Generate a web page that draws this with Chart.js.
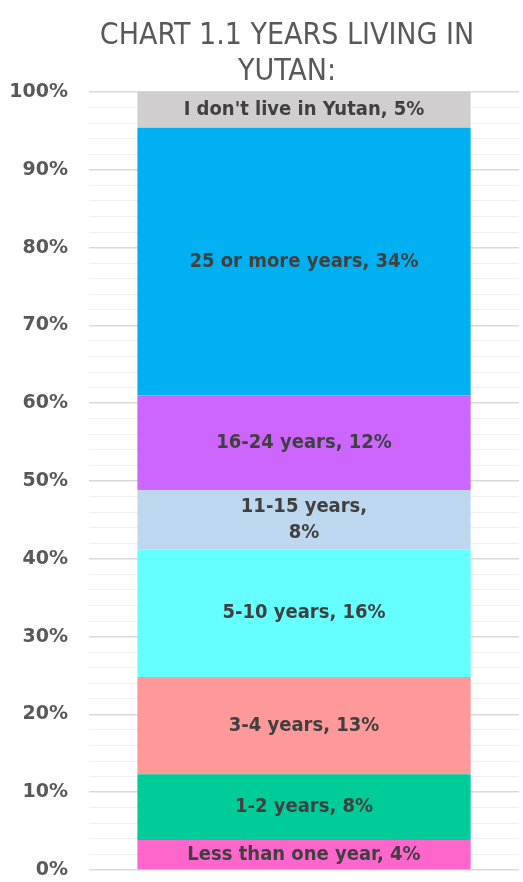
<!DOCTYPE html>
<html>
<head>
<meta charset="utf-8">
<script src="https://cdn.jsdelivr.net/npm/chart.js@4/dist/chart.umd.min.js"></script>
<style>
    html, body { margin: 0; padding: 0; background: #ffffff; }
    #wrap { width: 523px; height: 882px; position: relative; }
</style>
</head>
<body>
<div id="wrap"><canvas id="the-graph"></canvas></div>
<script>
/*
 *  Data (bottom segment first)
 */

const titleLines = ['CHART 1.1 YEARS LIVING IN', 'YUTAN:'];
const categories = ['Yutan'];
const seriesNames = ['Less than one year', '1-2 years', '3-4 years', '5-10 years',
    '11-15 years', '16-24 years', '25 or more years', "I don't live in Yutan"];
const seriesValues = [3.85, 8.45, 12.5, 16.4, 7.6, 12.2, 34.4, 4.6];
const seriesColors = ['#ff66cc', '#00cc99', '#ff9999', '#66ffff',
    '#bdd7ee', '#cc66ff', '#00b0f0', '#d0cece'];
const wrappedLabels = ['11-15 years'];

/*
 *  Plugins
 */

const titleDrawer = {
    id: 'titleDrawer',
    afterDraw(chart){
        let c = chart.ctx;
        c.save();
        c.fillStyle = '#595959';
        c.font = '30px "DejaVu Sans Condensed", "DejaVu Sans"';
        c.textAlign = 'center';
        c.textBaseline = 'alphabetic';
        titleLines.forEach((line, i) => {
            c.fillText(line, 287, 44 + i * 36);
        });
        c.restore();
    }
};

const segmentLabels = {
    id: 'segmentLabels',
    afterDatasetsDraw(chart){
        let c = chart.ctx;
        c.save();
        c.fillStyle = '#404040';
        c.font = 'bold 20px "DejaVu Sans Condensed", "DejaVu Sans"';
        c.textAlign = 'center';
        c.textBaseline = 'middle';
        chart.data.datasets.forEach((ds, i) => {
            let bar = chart.getDatasetMeta(i).data[0];
            let pct = Math.round(ds.data[0]) + '%';
            let lines = wrappedLabels.includes(ds.label)
                ? [ds.label + ',', pct]
                : [ds.label + ', ' + pct];
            let mid = (bar.y + bar.base) / 2;
            lines.forEach((line, j) => {
                c.fillText(line, bar.x, mid + (j - (lines.length - 1) / 2) * 26);
            });
        });
        c.restore();
    }
};

/*
 *  Chart
 */

document.addEventListener("DOMContentLoaded", () => {
    let content = document.getElementById('the-graph').getContext('2d');
    new Chart(content, {
        type: 'bar',
        data: {
            labels: categories,
            datasets: seriesNames.map((name, i) => ({
                label: name,
                data: [seriesValues[i]],
                backgroundColor: seriesColors[i],
                borderWidth: 0,
                categoryPercentage: 1,
                barPercentage: 0.775,
            }))
        },
        options: {
            responsive: true,
            maintainAspectRatio: false,
            animation: false,
            layout: {
                padding: { top: 92, bottom: 12, left: 0, right: 4 }
            },
            plugins: {
                legend: { display: false },
                tooltip: { enabled: false },
                title: { display: false },
            },
            scales: {
                x: {
                    stacked: true,
                    display: false,
                },
                y: {
                    stacked: true,
                    min: 0,
                    max: 100,
                    afterFit(axis){ axis.width = 89; },
                    border: { display: false },
                    grid: {
                        drawTicks: true,
                        tickLength: 21,
                        tickColor: 'rgba(0,0,0,0)',
                        color: (ctx) => ctx.tick && ctx.tick.value % 10 === 0 ? '#d9d9d9' : '#f0f0f0',
                        lineWidth: (ctx) => ctx.tick && ctx.tick.value % 10 === 0 ? 1.5 : 1,
                    },
                    ticks: {
                        stepSize: 2,
                        autoSkip: false,
                        padding: 0,
                        color: '#595959',
                        font: { family: '"DejaVu Sans"', weight: 'bold', size: 19 },
                        callback: (v) => v % 10 === 0 ? v + '%' : '',
                    }
                }
            }
        },
        plugins: [titleDrawer, segmentLabels]
    });
});
</script>
</body>
</html>
